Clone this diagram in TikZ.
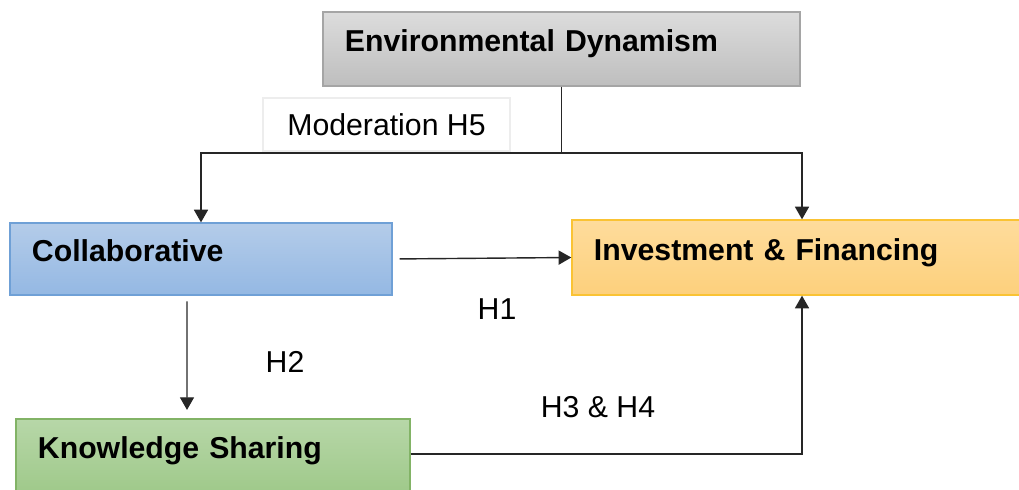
\documentclass[tikz,border=0pt]{standalone}
\usepackage{fontspec}
\setmainfont{Liberation Sans}
\usetikzlibrary{arrows.meta}
\definecolor{envtop}{HTML}{DCDCDC}
\definecolor{envbot}{HTML}{BEBEBE}
\definecolor{envline}{HTML}{A5A5A5}
\definecolor{coltop}{HTML}{B4CCE9}
\definecolor{colbot}{HTML}{94B8E3}
\definecolor{colline}{HTML}{6FA0D6}
\definecolor{invtop}{HTML}{FEDC9C}
\definecolor{invbot}{HTML}{FDD07C}
\definecolor{invline}{HTML}{FAC334}
\definecolor{knotop}{HTML}{B7D7A8}
\definecolor{knobot}{HTML}{9FC98A}
\definecolor{knoline}{HTML}{82B366}
\begin{document}
\begin{tikzpicture}[x=0.025cm,y=-0.025cm,
        every node/.style={font=\fontsize{21.5}{26}\selectfont},
        varbox/.style={draw=#1line,top color=#1top,bottom color=#1bot,line width=0.9pt,
            font=\fontsize{21.5}{26}\selectfont\bfseries,align=left,inner xsep=0.55cm,text depth=12pt},
        arr/.style={-{Triangle[width=10pt,length=9pt]},line width=1pt,draw=black!85}]
    \useasboundingbox (0,0) rectangle (1019,490);

    \node[varbox=env,minimum width=11.925cm,minimum height=1.85cm,text width=10.825cm] (env) at (561.5,49) {Environmental Dynamism};
    \node[draw=black!7,line width=0.8pt,minimum width=6.175cm,minimum height=1.325cm] (mod) at (386.5,124.5) {Moderation H5};
    \node[varbox=col,minimum width=9.55cm,minimum height=1.8cm,text width=8.45cm] (col) at (201,259) {Collaborative};
    \node[varbox=inv,minimum width=11.5cm,minimum height=1.875cm,text width=10.4cm] (inv) at (802,257.5) {Investment \& Financing};
    \node[varbox=kno,minimum width=9.85cm,minimum height=1.85cm,text width=8.75cm] (kno) at (213,456) {Knowledge Sharing};

    \coordinate (split) at (env.south |- 0,153);
    \draw[arr] (env.south) -- (split) -| (col.north);
    \draw[arr] (split) -| (inv.north);
    \draw[arr,shorten <=5pt] (col.east) -- (inv.west);
    \draw[arr,shorten <=4pt,shorten >=6pt] ([xshift=-0.35cm]col.south) -- ([xshift=-0.65cm]kno.north);
    \draw[arr] ([yshift=0.05cm]kno.east) -| (inv.south);

    \node (h1) at (497,309) {H1};
    \node (h2) at (285,362) {H2};
    \node (h34) at (598,407) {H3 \& H4};
\end{tikzpicture}
\end{document}
